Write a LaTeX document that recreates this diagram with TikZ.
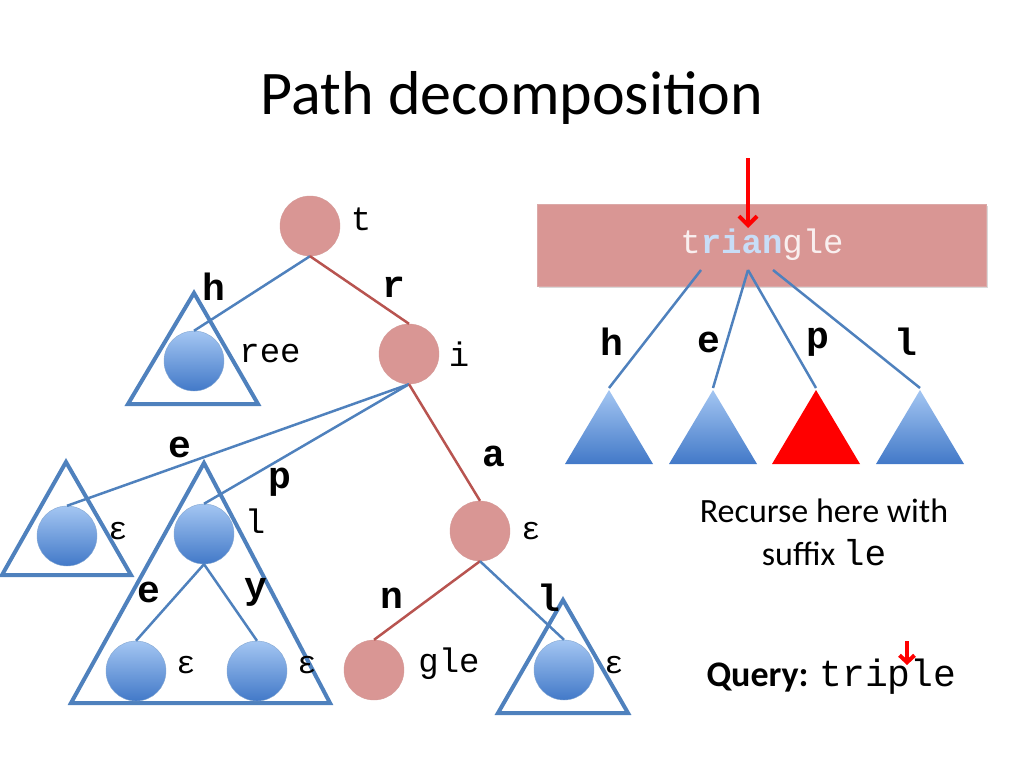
\documentclass[tikz,border=0pt]{standalone}
\usepackage{fontspec}
\setmainfont{Carlito}
\setmonofont{Liberation Mono}
\usetikzlibrary{arrows.meta, shadows}
\definecolor{pinknode}{HTML}{D99694}
\definecolor{pinkline}{HTML}{B85450}
\definecolor{treeblue}{HTML}{4F81BD}
\definecolor{balltop}{HTML}{A4C6F2}
\definecolor{ballbot}{HTML}{4279C8}
\tikzset{
  rnode/.style={circle, minimum size=60pt, inner sep=0pt, fill=pinknode, draw=pinkline!60},
  bnode/.style={circle, minimum size=60pt, inner sep=0pt, top color=balltop, bottom color=ballbot, draw=treeblue!70},
  lab/.style={font=\fontsize{34}{34}\selectfont\ttfamily},
  elab/.style={font=\fontsize{38}{38}\selectfont\ttfamily\bfseries},
  redge/.style={pinkline, line width=2.5pt},
  bedge/.style={treeblue, line width=2.5pt},
  subtree/.style={treeblue, line width=4pt, line join=miter},
  ftree/.style={top color=balltop, bottom color=ballbot, draw=none},
  rtree/.style={fill=red, draw=none},
}
\def\eps{\fontsize{32}{32}\selectfont\ttfamily ε}
\begin{document}
\begin{tikzpicture}[x=1pt, y=-1pt]
\useasboundingbox (0,0) rectangle (1024,768);
\node[font=\fontsize{62}{62}\selectfont] (title) at (512,98) {Path decomposition};

% left: the trie
\draw[subtree] (194,293) -- (258,404) -- (128,404) -- cycle;
\draw[subtree] (66,462) -- (131,575) -- (2,575) -- cycle;
\draw[subtree] (204,463) -- (330,703) -- (71,703) -- cycle;
\draw[subtree] (563,600) -- (628,713) -- (498,713) -- cycle;

\node[rnode] (t) at (310,226) {};
\node[rnode] (i) at (409,354) {};
\node[rnode] (a) at (480,531) {};
\node[rnode] (n) at (374,670) {};
\node[bnode] (h) at (194,361) {};
\node[bnode] (e) at (67,536) {};
\node[bnode] (p) at (204,534) {};
\node[bnode] (pe) at (136,671) {};
\node[bnode] (py) at (257,671) {};
\node[bnode] (l) at (564,670) {};

\draw[bedge] (t.south) -- (h.north);
\draw[redge] (t.south) -- (i.north);
\draw[bedge] (i.south) -- (e.north);
\draw[bedge] (i.south) -- (p.north);
\draw[redge] (i.south) -- (a.north);
\draw[redge] (a.south) -- (n.north);
\draw[bedge] (a.south) -- (l.north);
\draw[bedge] (p.south) -- (pe.north);
\draw[bedge] (p.south) -- (py.north);

\node[elab] at (214,287) {h};
\node[elab] at (394,287) {r};
\node[elab] at (180,447) {e};
\node[elab] at (280,482) {p};
\node[elab] at (494,456) {a};
\node[elab] at (149,592) {e};
\node[elab] at (256,592) {y};
\node[elab] at (392,598) {n};
\node[elab] at (549,598) {l};

\node[lab] at (361,219) {t};
\node[lab] at (270,354) {ree};
\node[lab] at (459,354) {i};
\node at (118,531) {\eps};
\node[lab] at (255,521) {l};
\node at (531,531) {\eps};
\node at (186,665) {\eps};
\node at (307,665) {\eps};
\node[lab] at (449,664) {gle};
\node at (614,665) {\eps};

% right: the decomposed path
\node[rectangle, fill=pinknode, draw=pinkline!50, minimum width=449pt, minimum height=82pt,
  drop shadow={opacity=0.3}] (box) at (761.5,245) {};
\node[lab, white!85!pinknode] (word) at (762,245)
  {t{\bfseries\color{balltop!60!white}ri}{\bfseries\color{balltop!60!white}an}gle};
\coordinate (top) at (748,158);
\coordinate (tip) at (748,228);
\draw[red, line width=4pt, -{Straight Barb[length=9pt, width=18pt]}] (top) -- (tip);

\coordinate (s1) at (701,270);
\coordinate (s2) at (748,270);
\coordinate (s3) at (773,270);
\foreach \x/\c [count=\k] in {609/ftree, 713/ftree, 816/rtree, 920/ftree} {
  \path[\c] (\x,390) -- (\x+44,464) -- (\x-44,464) -- cycle;
  \coordinate (r\k) at (\x,388);
}
\draw[bedge] (s1) -- (r1);
\draw[bedge] (s2) -- (r2);
\draw[bedge] (s2) -- (r3);
\draw[bedge] (s3) -- (r4);

\node[elab] at (612,342) {h};
\node[elab] at (709,342) {e};
\node[elab] at (818,342) {p};
\node[elab] at (906,342) {l};

\node[font=\fontsize{34}{34}\selectfont] (rec) at (824,511) {Recurse here with};
\node[font=\fontsize{34}{34}\selectfont] (suf) at (824,553) {suffix \fontsize{36}{36}\selectfont\texttt{le}};
\node[font=\fontsize{36}{36}\selectfont, anchor=west] (query) at (703,677)
  {\textbf{Query:} \fontsize{38}{38}\selectfont\texttt{triple}};
\coordinate (q1) at (907,641);
\coordinate (q2) at (907,665);
\draw[red, line width=4pt, -{Straight Barb[length=7pt, width=15pt]}] (q1) -- (q2);
\end{tikzpicture}
\end{document}
